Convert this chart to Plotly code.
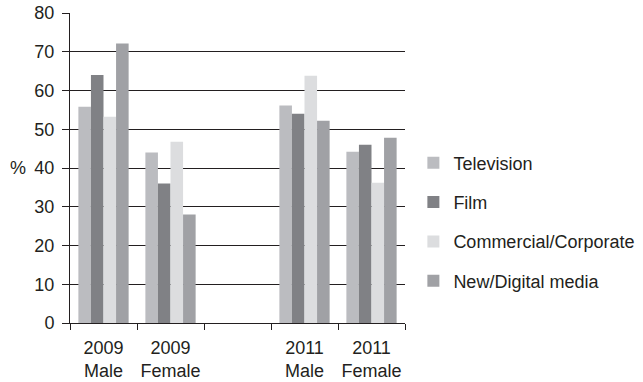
import plotly.graph_objects as go

categories = ["2009<br>Male", "2009<br>Female", " ", "2011<br>Male", "2011<br>Female"]
series_names = ["Television", "Film", "Commercial/Corporate", "New/Digital media"]
television = [55.8, 44.0, None, 56.1, 44.2]
film = [64.0, 36.0, None, 54.0, 46.0]
commercial = [53.2, 46.8, None, 63.8, 36.2]
new_digital = [72.1, 28.0, None, 52.2, 47.8]
colors = ["#bbbcc0", "#808185", "#dcdddf", "#a0a1a5"]
y_ticks = [0, 10, 20, 30, 40, 50, 60, 70, 80]

fig = go.Figure()
for i, (name, vals) in enumerate(zip(series_names, [television, film, commercial, new_digital])):
    fig.add_trace(go.Bar(x=categories, y=vals, name=name, marker=dict(color=colors[i], line=dict(width=0)),
                         legendgroup=str(i)))

fig.update_layout(
    width=643, height=382,
    margin=dict(l=70, r=238, t=13, b=59, autoexpand=False),
    plot_bgcolor="white", paper_bgcolor="white",
    barmode="group", bargap=0.25, bargroupgap=0,
    font=dict(family="Liberation Sans, Arial, sans-serif", size=18, color="#231f20"),
    showlegend=True,
    legend=dict(x=1.025, y=0.326, yanchor="middle", xanchor="left", font=dict(size=18),
                tracegroupgap=13, traceorder="grouped", bgcolor="rgba(0,0,0,0)"),
    xaxis=dict(type="category", tickson="boundaries", ticks="outside", ticklen=6, tickcolor="#231f20",
               showline=True, linecolor="#231f20", linewidth=1, showgrid=False, ticklabelstandoff=8,
               tickangle=0, automargin=False),
    yaxis=dict(range=[0, 80], tickvals=y_ticks, ticks="outside", ticklen=7, tickcolor="#231f20",
               showline=True, linecolor="#231f20", linewidth=1, showgrid=True, gridcolor="#231f20",
               gridwidth=1, zeroline=False, ticklabelstandoff=4, automargin=False),
)
fig.add_annotation(text="%", xref="paper", yref="paper", x=-0.155, y=0.5, showarrow=False,
                   xanchor="center", yanchor="middle", font=dict(size=18))

fig.write_html("out.html")
